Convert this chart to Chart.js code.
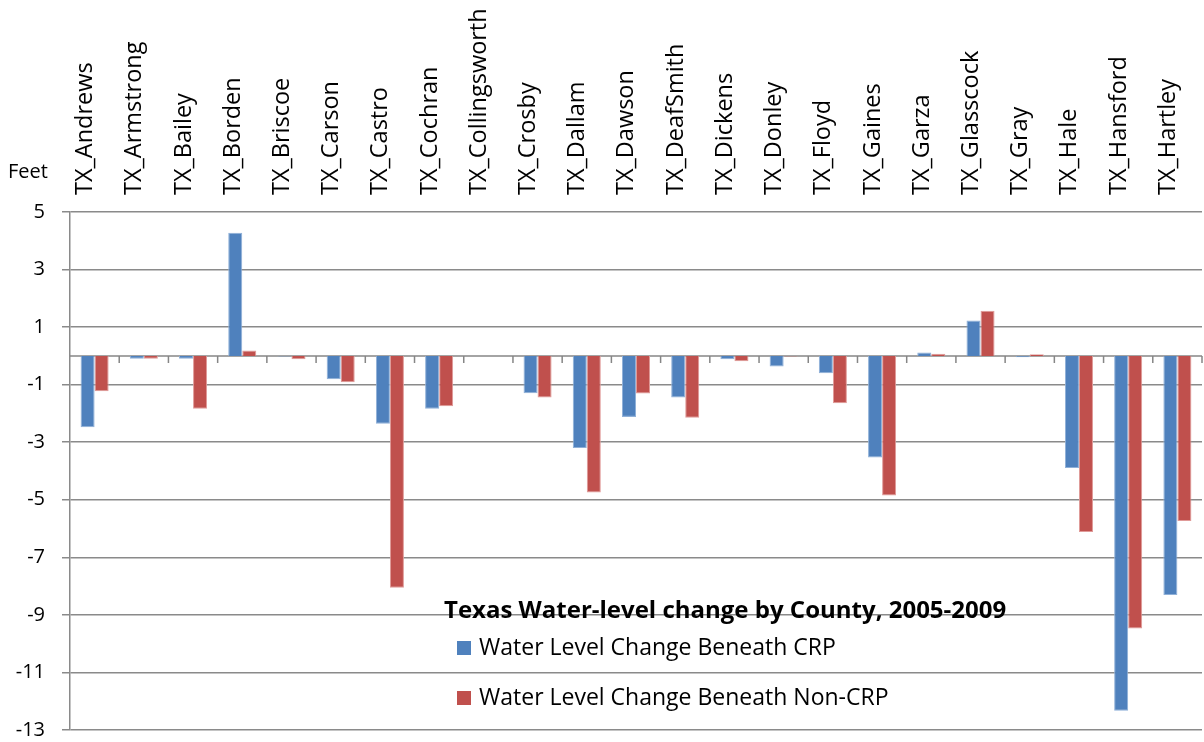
<!DOCTYPE html>
<html>
<head>
<meta charset="utf-8">
<script src="https://cdn.jsdelivr.net/npm/chart.js@4.4.0/dist/chart.umd.min.js"></script>
<style>
html,body{margin:0;padding:0;background:#fff;}
#wrap{width:1204px;height:742px;position:relative;}
</style>
</head>
<body>
<div id="wrap"><canvas id="c" width="1204" height="742"></canvas></div>
<script>
const categories = ['TX_Andrews','TX_Armstrong','TX_Bailey','TX_Borden','TX_Briscoe','TX_Carson','TX_Castro','TX_Cochran','TX_Collingsworth','TX_Crosby','TX_Dallam','TX_Dawson','TX_DeafSmith','TX_Dickens','TX_Donley','TX_Floyd','TX_Gaines','TX_Garza','TX_Glasscock','TX_Gray','TX_Hale','TX_Hansford','TX_Hartley'];
const crpValues = [-2.48,-0.1,-0.1,4.28,-0.02,-0.81,-2.36,-1.84,0,-1.3,-3.2,-2.12,-1.45,-0.12,-0.37,-0.6,-3.53,0.12,1.23,-0.05,-3.9,-12.33,-8.31];
const nonCrpValues = [-1.23,-0.1,-1.84,0.19,-0.12,-0.92,-8.06,-1.75,0,-1.45,-4.75,-1.31,-2.15,-0.19,-0.02,-1.65,-4.85,0.07,1.57,0.06,-6.12,-9.47,-5.74];
const seriesNames = ['Water Level Change Beneath CRP','Water Level Change Beneath Non-CRP'];
const yMin = -13, yMax = 5, yStep = 2;
const chartTitle = 'Texas Water-level change by County, 2005-2009';
const yUnit = 'Feet';

const FONT = "'Open Sans', 'Noto Sans', sans-serif";
const blue = '#4F81BD', red = '#C0504D';

const overlay = {
  id: 'overlay',
  beforeDatasetsDraw(chart) {
    const {ctx, chartArea, scales} = chart;
    const x = scales.x, y = scales.y;
    const y0 = y.getPixelForValue(0);
    ctx.save();
    ctx.strokeStyle = '#868686';
    ctx.lineWidth = 1.5;
    ctx.beginPath();
    ctx.moveTo(chartArea.left, y0);
    ctx.lineTo(chartArea.right, y0);
    const half = (x.getPixelForValue(1) - x.getPixelForValue(0)) / 2;
    for (let i = 0; i < categories.length; i++) {
      const bx = x.getPixelForValue(i) + half;
      ctx.moveTo(bx, y0);
      ctx.lineTo(bx, y0 + 7);
    }
    ctx.stroke();
    ctx.restore();
  },
  afterDraw(chart) {
    const {ctx, chartArea} = chart;
    ctx.save();
    ctx.fillStyle = '#000';
    ctx.textBaseline = 'middle';
    ctx.textAlign = 'left';
    ctx.font = "20px " + FONT;
    ctx.fillText(yUnit, chartArea.left - 62, chartArea.top - 40);
    const lx = chartArea.left + 387;
    ctx.font = "bold 24px " + FONT;
    ctx.fillText(chartTitle, lx - 13, chartArea.top + 399);
    const colors = [blue, red];
    ctx.font = "23px " + FONT;
    for (let i = 0; i < seriesNames.length; i++) {
      const cy = chartArea.top + 436 + i * 50;
      ctx.fillStyle = colors[i];
      ctx.fillRect(lx, cy - 7, 14, 14);
      ctx.fillStyle = '#000';
      ctx.fillText(seriesNames[i], lx + 22, cy);
    }
    ctx.restore();
  }
};

new Chart(document.getElementById('c'), {
  type: 'bar',
  data: {
    labels: categories,
    datasets: [
      {label: seriesNames[0], data: crpValues, backgroundColor: blue, borderColor: '#8fb0d8', borderWidth: 1, categoryPercentage: 0.57, barPercentage: 1},
      {label: seriesNames[1], data: nonCrpValues, backgroundColor: red, borderColor: '#e09a98', borderWidth: 1, categoryPercentage: 0.57, barPercentage: 1}
    ]
  },
  options: {
    responsive: false,
    animation: false,
    layout: {padding: {left: 0, right: 2, top: 0, bottom: 12}},
    plugins: {legend: {display: false}, title: {display: false}, tooltip: {enabled: false}},
    scales: {
      x: {
        position: 'top',
        grid: {display: false, drawTicks: false},
        border: {display: false},
        ticks: {maxRotation: 90, minRotation: 90, autoSkip: false, color: '#000', padding: 17, labelOffset: 19, font: {family: FONT, size: 23.5}},
        afterFit(s) { s.height = 212; }
      },
      y: {
        min: yMin, max: yMax,
        grid: {color: '#8a8a8a', lineWidth: 1.5, tickLength: 8, drawTicks: true},
        border: {display: true, color: '#8a8a8a', width: 1.5},
        ticks: {stepSize: yStep, color: '#000', padding: 17, font: {family: FONT, size: 20}},
        afterFit(s) { s.width = 70; s.paddingTop = 0; s.paddingBottom = 0; }
      }
    }
  },
  plugins: [overlay]
});
</script>
</body>
</html>
